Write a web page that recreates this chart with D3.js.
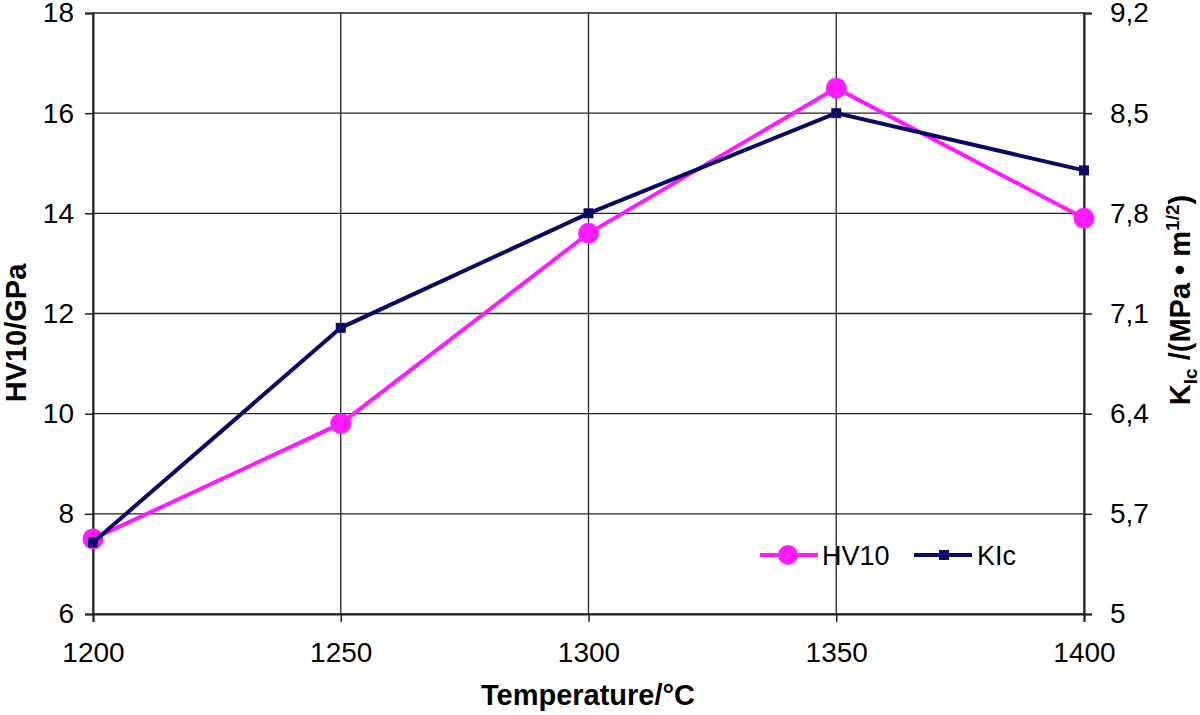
<!DOCTYPE html>
<html><head><meta charset="utf-8">
<script src="https://cdn.jsdelivr.net/npm/d3@7"></script>
<style>body{margin:0;background:#fff}svg{display:block}text{font-family:"Liberation Sans",Arial,sans-serif}</style>
</head><body><svg id="c" width="1200" height="715"></svg>
<script>
const temperatures = [1200, 1250, 1300, 1350, 1400];
const hv10 = [7.5, 9.8, 13.6, 16.5, 13.9];
const kic = [5.5, 7.0, 7.8, 8.5, 8.1];
const leftTicks = [6, 8, 10, 12, 14, 16, 18];
const rightTicks = [5, 5.7, 6.4, 7.1, 7.8, 8.5, 9.2];
const rightTickLabels = ["5", "5,7", "6,4", "7,1", "7,8", "8,5", "9,2"];

const svg = d3.select("#c");
const L = 93, R = 1084, T = 13, B = 614;
const x = d3.scaleLinear().domain([1200, 1400]).range([L, R]);
const yL = d3.scaleLinear().domain([6, 18]).range([B, T]);
const yR = d3.scaleLinear().domain([5, 9.2]).range([B, T]);
const gridColor = "#222";

// grid
svg.append("g").selectAll("line").data(leftTicks).join("line")
  .attr("x1", L).attr("x2", R).attr("y1", d => yL(d)).attr("y2", d => yL(d))
  .attr("stroke", gridColor).attr("stroke-width", 1.3);
svg.append("g").selectAll("line").data(temperatures).join("line")
  .attr("x1", d => x(d)).attr("x2", d => x(d)).attr("y1", T).attr("y2", B)
  .attr("stroke", gridColor).attr("stroke-width", 1.3);

// axes
const axL = d3.axisLeft(yL).tickValues(leftTicks).tickSize(8).tickPadding(11).tickFormat(d3.format("d"));
const axR = d3.axisRight(yR).tickValues(rightTicks).tickSize(8).tickPadding(18).tickFormat((d, i) => rightTickLabels[i]);
const axB = d3.axisBottom(x).tickValues(temperatures).tickSize(8).tickPadding(20).tickFormat(d3.format("d"));
function style(g){
  g.attr("font-size", 28).attr("font-family", '"Liberation Sans",Arial,sans-serif');
  g.select(".domain").attr("stroke", gridColor).attr("stroke-width", 2);
  g.selectAll(".tick line").attr("stroke", gridColor).attr("stroke-width", 1.5);
  g.selectAll(".tick text").attr("fill", "#000");
}
svg.append("g").attr("transform", `translate(${L},0)`).call(axL).call(style);
svg.append("g").attr("transform", `translate(${R},0)`).call(axR).call(style);
svg.append("g").attr("transform", `translate(0,${B})`).call(axB).call(style);

// lines
const hvColor = "#ff1aff", kColor = "#0a0a66";
const lineHV = d3.line().x((d, i) => x(temperatures[i])).y(d => yL(d));
const lineK = d3.line().x((d, i) => x(temperatures[i])).y(d => yR(d));
svg.append("path").datum(hv10).attr("d", lineHV).attr("fill", "none").attr("stroke", hvColor).attr("stroke-width", 4);
svg.append("g").selectAll("circle").data(hv10).join("circle")
  .attr("cx", (d, i) => x(temperatures[i])).attr("cy", d => yL(d)).attr("r", 10.5).attr("fill", hvColor);
svg.append("path").datum(kic).attr("d", lineK).attr("fill", "none").attr("stroke", kColor).attr("stroke-width", 4);
svg.append("g").selectAll("rect").data(kic).join("rect")
  .attr("x", (d, i) => x(temperatures[i]) - 5).attr("y", d => yR(d) - 5).attr("width", 10).attr("height", 10).attr("fill", kColor);

// legend
const lg = svg.append("g");
lg.append("line").attr("x1", 760).attr("x2", 818).attr("y1", 555).attr("y2", 555).attr("stroke", hvColor).attr("stroke-width", 4);
lg.append("circle").attr("cx", 788).attr("cy", 555).attr("r", 10).attr("fill", hvColor);
lg.append("text").attr("x", 822).attr("y", 565).text("HV10").style("font-size", "27px");
lg.append("line").attr("x1", 914).attr("x2", 972).attr("y1", 555).attr("y2", 555).attr("stroke", kColor).attr("stroke-width", 4);
lg.append("rect").attr("x", 939).attr("y", 550).attr("width", 10).attr("height", 10).attr("fill", kColor);
lg.append("text").attr("x", 977).attr("y", 565).text("KIc").style("font-size", "27px");

// titles
svg.append("text").attr("x", 588).attr("y", 705).attr("text-anchor", "middle")
  .style("font-size", "29px").style("font-weight", "bold").text("Temperature/°C");
svg.append("text").attr("transform", "translate(26,333) rotate(-90)").attr("text-anchor", "middle")
  .style("font-size", "29px").style("font-weight", "bold").text("HV10/GPa");
const rt = svg.append("text").attr("transform", "translate(1190,300) rotate(-90)").attr("text-anchor", "middle")
  .style("font-size", "29px").style("font-weight", "bold");
rt.append("tspan").text("K");
rt.append("tspan").attr("dy", 7).style("font-size", "19px").text("Ic");
rt.append("tspan").attr("dy", -7).text(" /(MPa • m");
rt.append("tspan").attr("dy", -11).style("font-size", "19px").text("1/2");
rt.append("tspan").attr("dy", 11).text(")");
</script></body></html>
